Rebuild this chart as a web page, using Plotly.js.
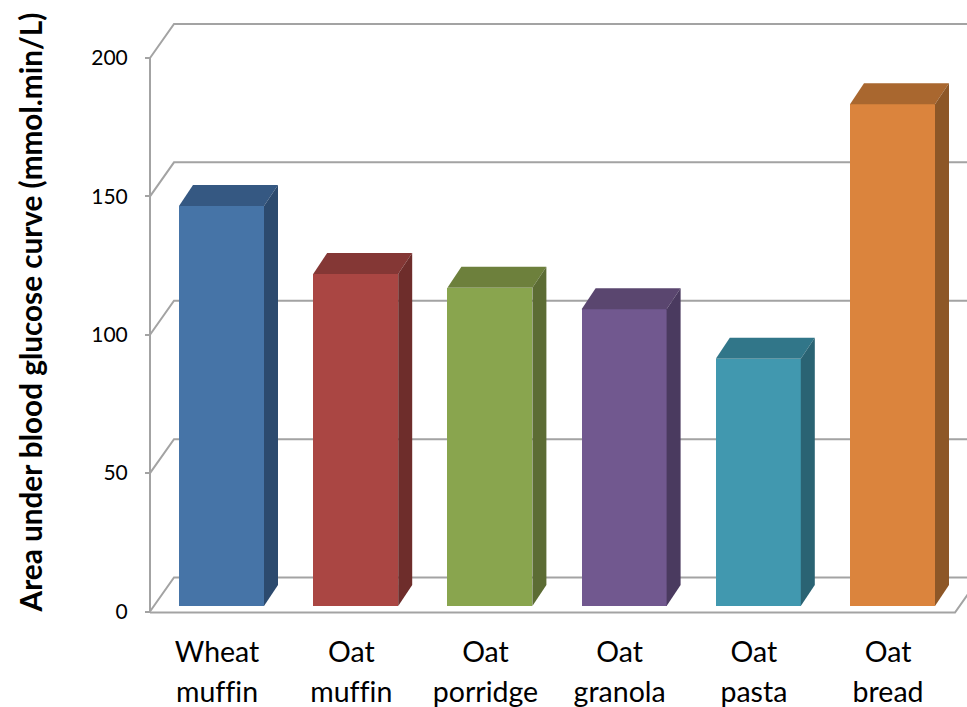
<!DOCTYPE html>
<html>
<head>
<meta charset="utf-8">
<script src="https://cdn.plot.ly/plotly-3.0.1.min.js"></script>
<style>html,body{margin:0;padding:0;background:#fff;overflow:hidden}
#chart text{font-variant-ligatures:none !important}</style>
</head>
<body>
<div id="chart" style="width:967px;height:707px"></div>
<script>
// Glucose response per food
const categories = ['Wheat muffin', 'Oat muffin', 'Oat porridge', 'Oat granola', 'Oat pasta', 'Oat bread'];
const glucoseArea = [144.5, 120, 115, 107.2, 89.3, 181.3];
const yTicks = [0, 50, 100, 150, 200];
const frontColors = ['#4674A7', '#AA4643', '#89A54E', '#71588F', '#4198AF', '#DB843D'];
const topColors = ['#355882', '#843735', '#6D803C', '#5A466F', '#317689', '#A9672F'];
const sideColors = ['#2C4A6E', '#6E2D2B', '#5C6C34', '#4A3A5F', '#2A6373', '#8D5727'];

// Pixel geometry of the oblique projection
const W = 967, H = 707;
const plotLeft = 144, plotTop = 4, plotBottom = 620, zeroY = 611.5;
const unitY = 2.7675, slotX = 134.2, firstCenter = 221.5;
const toX = px => (px - firstCenter) / slotX;
const dyUnits = px => px / unitY;

const barWidth = 85 / slotX;
const barBase = dyUnits(5.5);
const barDepthX = 14 / slotX, barDepthY = dyUnits(21);
const wallDepthX = 24 / slotX, wallDepthY = dyUnits(34);
const axisX = toX(150), floorEndX = toX(955);
const floorY = dyUnits(-1);
const gridColor = '#A3A3A3';

// Oblique walls: each tick runs from the front axis back to the rear wall, then across
const line = {color: gridColor, width: 2};
const shapes = yTicks.map(t => ({
  type: 'path', layer: 'below', xref: 'x', yref: 'y', line,
  path: `M ${axisX} ${t} L ${axisX + wallDepthX} ${t + wallDepthY} L ${toX(W + 20)} ${t + wallDepthY}`
}));
shapes.push({type: 'path', layer: 'below', xref: 'x', yref: 'y', line,
  path: `M ${axisX} 0 L ${axisX} ${yTicks[yTicks.length - 1]}`});
shapes.push({type: 'path', layer: 'below', xref: 'x', yref: 'y', line,
  path: `M ${axisX} ${floorY} L ${floorEndX} ${floorY} L ${floorEndX + wallDepthX} ${floorY + wallDepthY}`});

// Front faces
const traces = [{
  type: 'bar', x: categories.map((_, i) => i), y: glucoseArea, base: barBase,
  width: barWidth, marker: {color: frontColors, line: {width: 0}},
  hoverinfo: 'skip', showlegend: false
}];

// Top and side faces follow each bar's value
glucoseArea.forEach((v, i) => {
  const l = i - barWidth / 2, r = i + barWidth / 2, top = v + barBase;
  traces.push({
    type: 'scatter', mode: 'lines', fill: 'toself', fillcolor: topColors[i],
    line: {width: 0}, hoverinfo: 'skip', showlegend: false,
    x: [l, l + barDepthX, r + barDepthX, r, l],
    y: [top, top + barDepthY, top + barDepthY, top, top]
  });
  traces.push({
    type: 'scatter', mode: 'lines', fill: 'toself', fillcolor: sideColors[i],
    line: {width: 0}, hoverinfo: 'skip', showlegend: false,
    x: [r, r + barDepthX, r + barDepthX, r, r],
    y: [top, top + barDepthY, barBase + barDepthY, barBase, top]
  });
});

const fontFamily = 'Lato, "Open Sans", sans-serif';
const twoLine = c => c.split(' ').map(w => `<span style="font-size:28.5px">${w}</span>`).join('<br>');

const layout = {
  width: W, height: H,
  margin: {l: plotLeft, r: 0, t: plotTop, b: H - plotBottom, pad: 0},
  paper_bgcolor: '#fff', plot_bgcolor: 'rgba(0,0,0,0)',
  showlegend: false, bargap: 0,
  xaxis: {
    range: [toX(plotLeft), toX(W)], showgrid: false, zeroline: false, showline: false,
    tickmode: 'array', tickvals: categories.map((_, i) => i - 0.033), ticktext: categories.map(twoLine),
    ticks: '', ticklabelstandoff: 10, tickangle: 0, tickfont: {family: fontFamily, size: 30.8, color: '#000'}
  },
  yaxis: {
    range: [dyUnits(zeroY - plotBottom), (zeroY - plotTop) / unitY], anchor: 'free', position: (150 - plotLeft) / (W - plotLeft),
    showgrid: false, zeroline: false, showline: false,
    tickmode: 'array', tickvals: yTicks, ticktext: yTicks.map(String),
    ticks: 'outside', ticklen: 5, tickwidth: 2, tickcolor: gridColor, ticklabelstandoff: 13, ticklabelshift: 2.5,
    tickfont: {family: fontFamily, size: 21, color: '#000'},
    title: {text: '<b>Area under blood glucose curve (mmol.min/L)</b>', standoff: 38,
            font: {family: fontFamily, size: 29.7, color: '#000'}}
  },
  shapes
};

Plotly.newPlot('chart', traces, layout, {displayModeBar: false, staticPlot: true});
</script>
</body>
</html>
